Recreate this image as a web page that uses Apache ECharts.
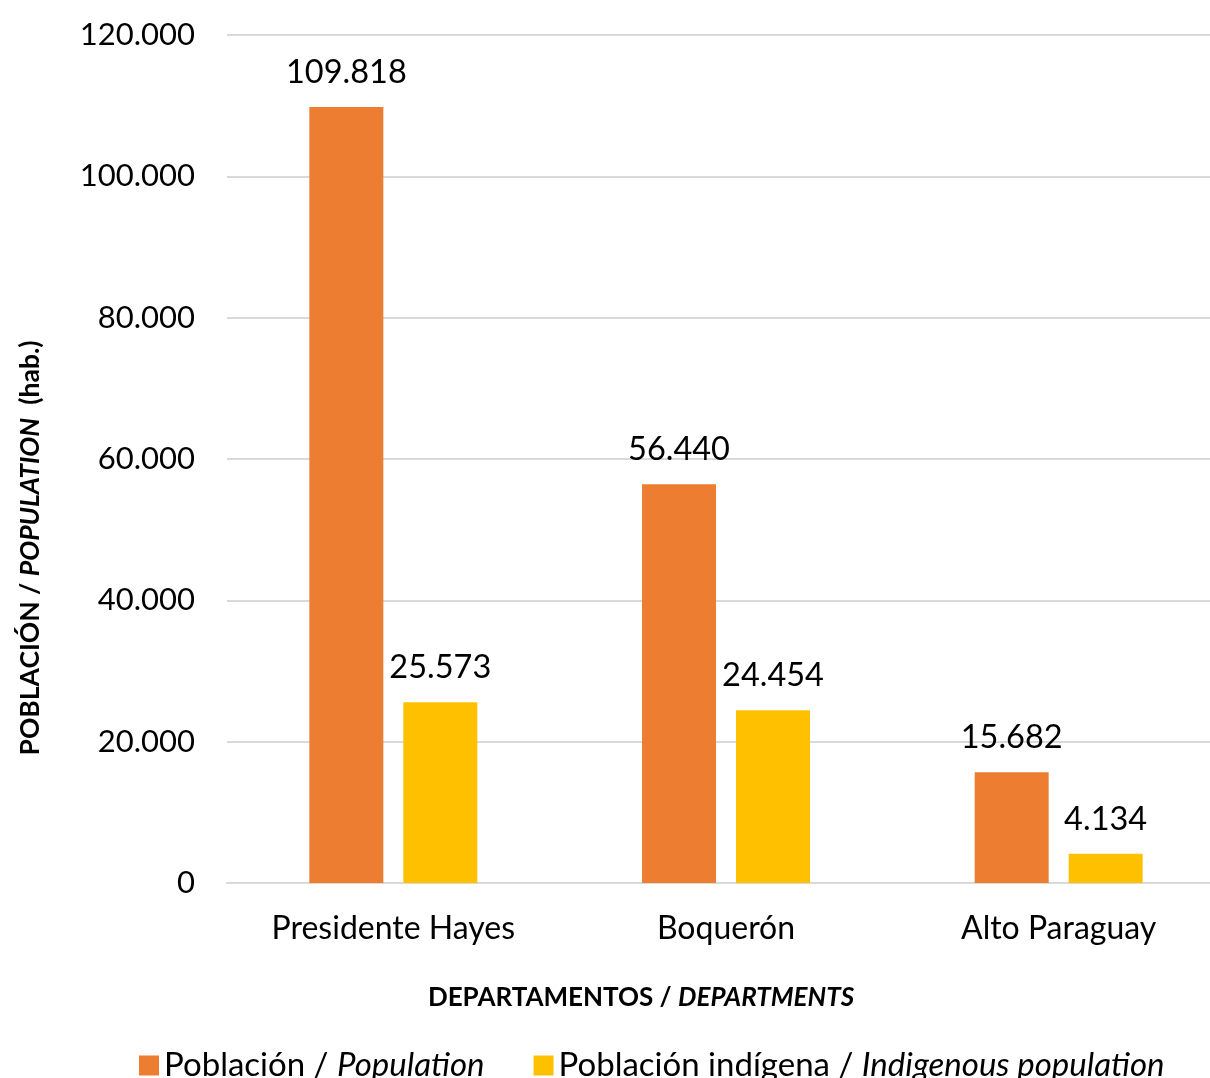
<!DOCTYPE html>
<html>
<head>
<meta charset="utf-8">
<script src="https://cdn.jsdelivr.net/npm/echarts@6/dist/echarts.min.js"></script>
<style>
  html, body { margin: 0; padding: 0; background: #fff; }
  #chart { width: 1210px; height: 1078px; }
</style>
</head>
<body>
<div id="chart"></div>
<script>
// Departments of the Paraguayan Chaco
const categories = ['Presidente Hayes', 'Boquerón', 'Alto Paraguay'];
const population = [109818, 56440, 15682];
const indigenous = [25573, 24454, 4134];
const yTicks = { min: 0, max: 120000, interval: 20000 };

const FONT = 'Lato, "Open Sans", sans-serif';

// thousands separated with a dot
function fmt(v) {
  return String(Math.round(v)).replace(/\B(?=(\d{3})+(?!\d))/g, '.');
}

const chart = echarts.init(document.getElementById('chart'));

const labelStyle = {
  show: true,
  position: 'top',
  distance: 18,
  fontFamily: FONT,
  fontSize: 32.5,
  color: '#000',
  formatter: p => fmt(p.value)
};

chart.setOption({
  backgroundColor: '#fff',
  animation: false,
  // plot area runs slightly past the right edge of the canvas
  grid: { left: 227, width: 998, top: 35, bottom: 195, containLabel: false, outerBoundsMode: 'none' },
  legend: {
    left: 134,
    top: 1044,
    itemWidth: 20,
    itemHeight: 20,
    itemGap: 49,
    icon: 'rect',
    data: ['Población / Population', 'Población indígena / Indigenous population'],
    formatter: name => {
      const parts = name.split(' / ');
      return '{n|' + parts[0] + ' / }{i|' + parts[1] + '}';
    },
    textStyle: {
      fontFamily: FONT,
      fontSize: 33,
      color: '#000',
      rich: {
        n: { fontFamily: FONT, fontSize: 33, lineHeight: 36, color: '#000' },
        i: { fontFamily: FONT, fontSize: 33, lineHeight: 36, color: '#000', fontStyle: 'italic' }
      }
    }
  },
  xAxis: {
    type: 'category',
    data: categories,
    axisLine: { show: true, lineStyle: { color: '#d9d9d9', width: 2 } },
    axisTick: { show: false },
    axisLabel: { fontFamily: FONT, fontSize: 32, color: '#000', margin: 30 }
  },
  yAxis: {
    type: 'value',
    min: yTicks.min,
    max: yTicks.max,
    interval: yTicks.interval,
    axisLine: { show: false },
    axisTick: { show: false },
    axisLabel: { fontFamily: FONT, fontSize: 31, color: '#000', margin: 32, formatter: v => fmt(v) },
    splitLine: { lineStyle: { color: '#d9d9d9', width: 2 } }
  },
  graphic: [
    {
      type: 'text',
      x: 30,
      y: 548,
      rotation: Math.PI / 2,
      style: {
        text: '{b|POBLACIÓN / }{bi|POPULATION}{b|  (hab.)}',
        align: 'center',
        verticalAlign: 'middle',
        rich: {
          b: { fontFamily: FONT, fontSize: 26.5, fontWeight: 'bold', fill: '#000' },
          bi: { fontFamily: FONT, fontSize: 26.5, fontWeight: 'bold', fontStyle: 'italic', fill: '#000' }
        }
      }
    },
    {
      type: 'text',
      x: 641,
      y: 998,
      style: {
        text: '{b|DEPARTAMENTOS / }{bi|DEPARTMENTS}',
        align: 'center',
        verticalAlign: 'middle',
        rich: {
          b: { fontFamily: FONT, fontSize: 26, fontWeight: 'bold', fill: '#000' },
          bi: { fontFamily: FONT, fontSize: 26, fontWeight: 'bold', fontStyle: 'italic', fill: '#000' }
        }
      }
    }
  ],
  series: [
    {
      name: 'Población / Population',
      type: 'bar',
      data: population,
      barWidth: 74,
      barGap: '27%',
      itemStyle: { color: '#ED7D31' },
      label: labelStyle
    },
    {
      name: 'Población indígena / Indigenous population',
      type: 'bar',
      data: indigenous,
      barWidth: 74,
      itemStyle: { color: '#FFC000' },
      label: labelStyle
    }
  ]
});
</script>
</body>
</html>
